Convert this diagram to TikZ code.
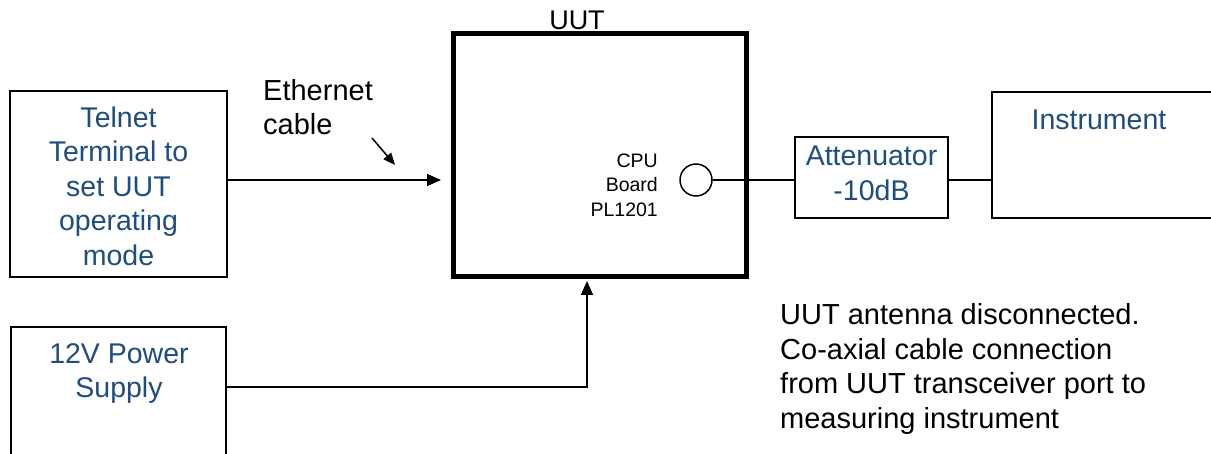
\documentclass[tikz,border=0pt]{standalone}
\usepackage{fontspec}
\setmainfont{Liberation Sans}
\usetikzlibrary{arrows.meta}
\definecolor{txtblue}{RGB}{31,77,125}
\tikzset{
  box/.style={draw=black, line width=1.6pt, inner sep=0pt, outer sep=0pt, rectangle},
  bluetxt/.style={text=txtblue, align=center, inner sep=0pt, font=\fontsize{28.5}{34.5}\selectfont},
  blacktxt/.style={text=black, inner sep=0pt, font=\fontsize{29}{34.5}\selectfont},
  wire/.style={draw=black, line width=1.5pt},
  arr/.style={wire, -{Triangle[length=14pt,width=12pt]}},
}
\begin{document}
\begin{tikzpicture}[x=1pt,y=-1pt]
\clip (0,0) rectangle (1211,454);
\fill[white] (0,0) rectangle (1211,454);
% boxes
\node[box, minimum width=217, minimum height=186] (telnet) at (118.5,184) {};
\node[box, minimum width=215, minimum height=143] (power) at (118.5,398.5) {};
\node[draw=black, line width=5pt, inner sep=0pt, outer sep=0pt, minimum width=293, minimum height=243] (uut) at (599.5,155.5) {};
\node[box, minimum width=153, minimum height=81] (att) at (871.5,177.5) {};
\node[box, minimum width=260, minimum height=126] (instr) at (1122,155) {};
\node[draw=black, line width=1.5pt, circle, minimum size=32pt, inner sep=0pt] (port) at (696,180) {};
% texts
\node[bluetxt] (telnettxt) at (118.5,186) {Telnet\\Terminal to\\set UUT\\operating\\mode};
\node[bluetxt] (powertxt) at (119,373.5) {12V Power\\Supply};
\node[bluetxt] (atttxt) at (871.5,173.5) {Attenuator\\-10dB};
\node[bluetxt] (instrtxt) at (1099,120) {Instrument};
\node[blacktxt, font=\fontsize{27}{32}\selectfont] (uuttxt) at (577,20) {UUT};
\node[text=black, inner sep=0pt, align=right, anchor=east, font=\fontsize{19.5}{24.5}\selectfont] (cputxt) at (658,185) {CPU\\Board\\PL1201};
\node[blacktxt, align=left, anchor=west] (ethtxt) at (263,107) {Ethernet\\cable};
\node[blacktxt, align=left, anchor=west] (note) at (780,369) {UUT antenna disconnected.\\Co-axial cable connection\\from UUT transceiver port to\\measuring instrument};
% connectors
\coordinate (ethend) at (441,180);
\coordinate (pwrin) at (587,281);
\coordinate (pwrrow) at (0,387);
\coordinate (ea1) at (372,138);
\coordinate (ea2) at (395,165);
\draw[arr] (port -| telnet.east) -- (ethend);
\draw[arr] (power.east |- pwrrow) -| (pwrin);
\draw[arr, -{Triangle[length=12pt,width=10pt]}] (ea1) -- (ea2);
\draw[wire] (port.east) -- (port -| att.west);
\draw[wire] (port -| att.east) -- (port -| instr.west);
\end{tikzpicture}
\end{document}
